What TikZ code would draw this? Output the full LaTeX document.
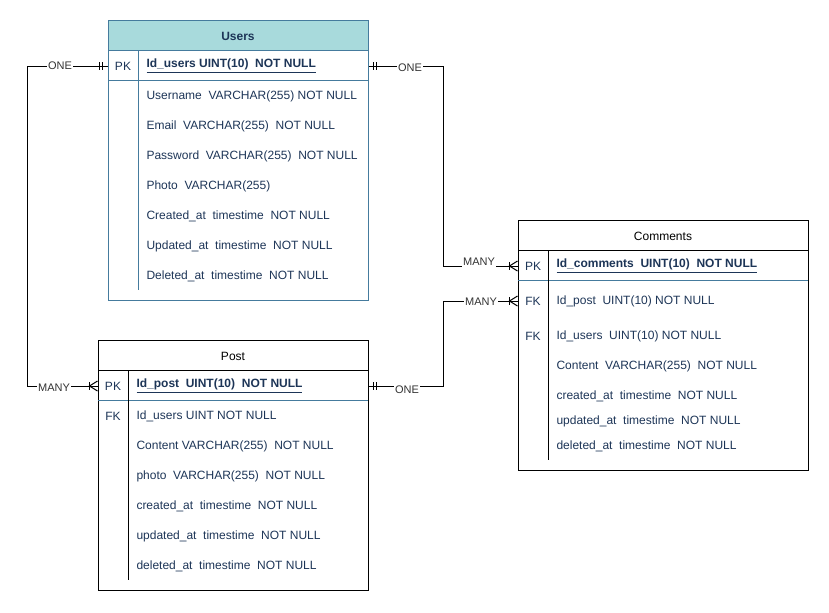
\documentclass[tikz,border=0pt]{standalone}
\usepackage{fontspec}
\setmainfont{Liberation Sans}
\usetikzlibrary{calc}
\definecolor{ublue}{HTML}{457B9D}
\definecolor{ufill}{HTML}{A8DADC}
\definecolor{utext}{HTML}{1D3557}
\definecolor{lblgray}{HTML}{333333}
\newcommand\erOneW[1]{%
  \draw ($(#1)+(-8,-4)$) -- ++(0,8);
  \draw ($(#1)+(-5,-4)$) -- ++(0,8);}
\newcommand\erOneE[1]{%
  \draw ($(#1)+(8,-4)$) -- ++(0,8);
  \draw ($(#1)+(5,-4)$) -- ++(0,8);}
\newcommand\erManyW[1]{%
  \draw ($(#1)+(-8,-4)$) -- ++(0,8);
  \draw ($(#1)+(0,-5)$) -- ($(#1)+(-8,0)$) -- ($(#1)+(0,5)$);}
\begin{document}
\begin{tikzpicture}[x=0.75pt,y=-0.75pt,line width=0.75pt,
  fld/.style={anchor=west,inner sep=0pt,text=utext,font=\fontsize{9}{11}\selectfont},
  key/.style={inner sep=0pt,text=utext,font=\fontsize{9}{11}\selectfont},
  ttl/.style={inner sep=0pt,font=\fontsize{9}{11}\selectfont},
  rowbox/.style={inner sep=0pt,minimum height=22.5pt},
  lbl/.style={fill=white,inner sep=0.8pt,text=lblgray,font=\fontsize{8.25}{10}\selectfont},
  conn/.style={draw=black,line width=0.75pt}]
\useasboundingbox (0,0) rectangle (829,612);

% ---------- Users ----------
\fill[ufill] (108,20) rectangle (368,50);
\draw[ublue] (108,20) rectangle (368,300);
\draw[ublue] (108,50) -- (368,50);
\draw[ublue] (108,80) -- (368,80);
\draw[ublue] (138,50) -- (138,290);
\node[ttl,text=utext,font=\fontsize{9}{11}\selectfont\bfseries] (uT) at (238,36) {Users};
\node[rowbox,minimum width=195pt] (uPK) at (238,66) {};
\node[key] (uk) at (123,66) {PK};
\node[fld,font=\fontsize{9}{11}\selectfont\bfseries] (u0) at (146,66) {\underline{Id\_users UINT(10)\ \ NOT NULL}};
\node[fld] (u1) at (146,96) {Username\ \ VARCHAR(255) NOT NULL};
\node[fld] (u2) at (146,126) {Email\ \ VARCHAR(255)\ \ NOT NULL};
\node[fld] (u3) at (146,156) {Password\ \ VARCHAR(255)\ \ NOT NULL};
\node[fld] (u4) at (146,186) {Photo\ \ VARCHAR(255)};
\node[fld] (u5) at (146,216) {Created\_at\ \ timestime\ \ NOT NULL};
\node[fld] (u6) at (146,246) {Updated\_at\ \ timestime\ \ NOT NULL};
\node[fld] (u7) at (146,276) {Deleted\_at\ \ timestime\ \ NOT NULL};

% ---------- Post ----------
\draw (98,340) rectangle (368,590);
\draw (98,370) -- (368,370);
\draw[ublue] (98,400) -- (368,400);
\draw (128,370) -- (128,580);
\node[ttl] (pT) at (233,356) {Post};
\node[rowbox,minimum width=202.5pt] (pPK) at (233,386) {};
\node[key] (pk) at (113,386) {PK};
\node[fld,font=\fontsize{9}{11}\selectfont\bfseries] (p0) at (136,386) {\underline{Id\_post\ \ UINT(10)\ \ NOT NULL}};
\node[key] (pf) at (113,416) {FK};
\node[fld] (p1) at (136,416) {Id\_users UINT NOT NULL};
\node[fld] (p2) at (136,446) {Content VARCHAR(255)\ \ NOT NULL};
\node[fld] (p3) at (136,476) {photo\ \ VARCHAR(255)\ \ NOT NULL};
\node[fld] (p4) at (136,506) {created\_at\ \ timestime\ \ NOT NULL};
\node[fld] (p5) at (136,536) {updated\_at\ \ timestime\ \ NOT NULL};
\node[fld] (p6) at (136,566) {deleted\_at\ \ timestime\ \ NOT NULL};

% ---------- Comments ----------
\draw (518,220) rectangle (808,470);
\draw (518,250) -- (808,250);
\draw[ublue] (518,280) -- (808,280);
\draw (548,250) -- (548,460);
\node[ttl] (cT) at (663,236) {Comments};
\node[rowbox,minimum width=217.5pt] (cPK) at (663,266) {};
\node[rowbox,minimum width=217.5pt] (cFK) at (663,301) {};
\node[key] (ck) at (533,266) {PK};
\node[fld,font=\fontsize{9}{11}\selectfont\bfseries] (c0) at (556,266) {\underline{Id\_comments\ \ UINT(10)\ \ NOT NULL}};
\node[key] (cf1) at (533,301) {FK};
\node[fld] (c1) at (556,301) {Id\_post\ \ UINT(10) NOT NULL};
\node[key] (cf2) at (533,336) {FK};
\node[fld] (c2) at (556,336) {Id\_users\ \ UINT(10) NOT NULL};
\node[fld] (c3) at (556,366) {Content\ \ VARCHAR(255)\ \ NOT NULL};
\node[fld] (c4) at (556,396) {created\_at\ \ timestime\ \ NOT NULL};
\node[fld] (c5) at (556,421) {updated\_at\ \ timestime\ \ NOT NULL};
\node[fld] (c6) at (556,446) {deleted\_at\ \ timestime\ \ NOT NULL};

% ---------- Connectors ----------
\draw[conn] (uPK.west) -- ++(-80,0) |- (pPK.west);
\draw[conn] (uPK.east) -- ++(75,0) |- (cPK.west);
\draw[conn] (pPK.east) -- ++(75,0) |- (cFK.west);

\erOneW{uPK.west}
\erOneE{uPK.east}
\erOneE{pPK.east}
\erManyW{pPK.west}
\erManyW{cPK.west}
\erManyW{cFK.west}

\node[lbl] (l1) at (60,66) {ONE};
\node[lbl] (l2) at (54,388) {MANY};
\node[lbl] (l3) at (410,68) {ONE};
\node[lbl] (l4) at (479,262) {MANY};
\node[lbl] (l5) at (407,390) {ONE};
\node[lbl] (l6) at (481,302) {MANY};
\end{tikzpicture}
\end{document}
